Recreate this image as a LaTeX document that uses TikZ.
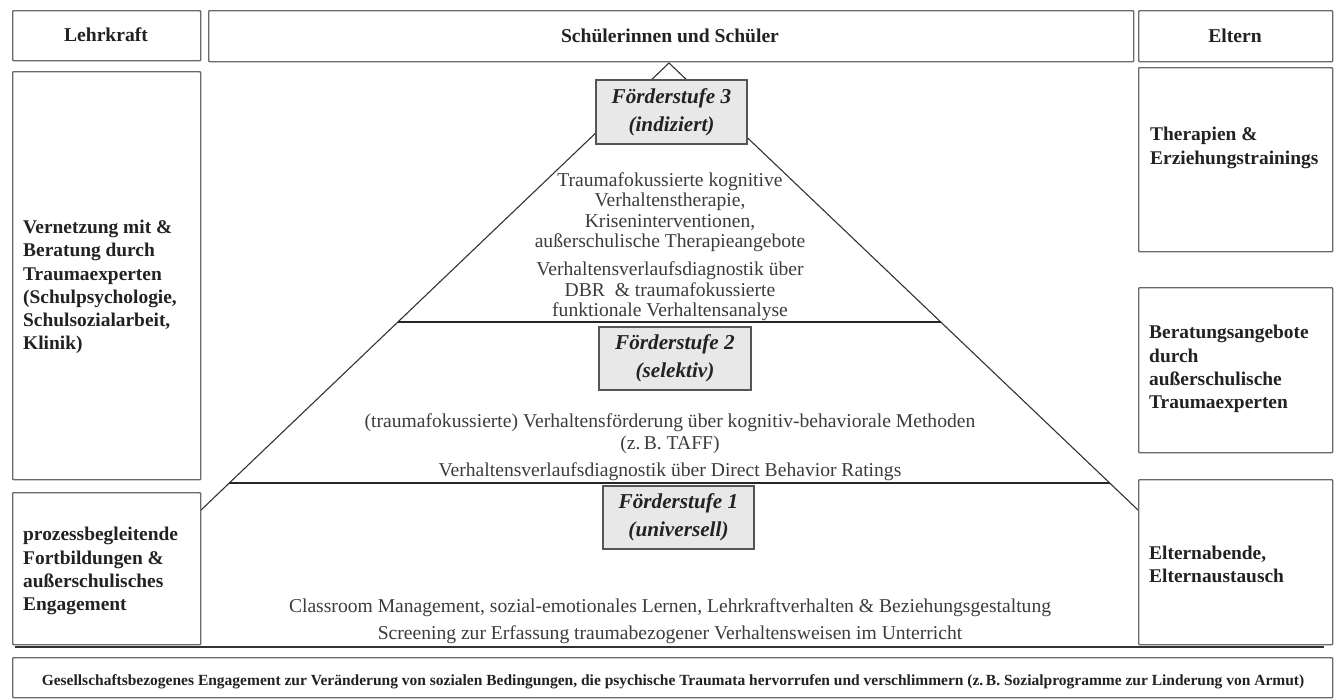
\documentclass[tikz,border=0pt]{standalone}
\usepackage{fontspec}
\setmainfont{Liberation Serif}
\definecolor{boxc}{HTML}{6A6A6A}
\definecolor{fsborder}{HTML}{555555}
\definecolor{fsfill}{HTML}{E8E8E8}
\definecolor{bodyc}{HTML}{3C3C3C}
\definecolor{headc}{HTML}{222222}
\begin{document}
\begin{tikzpicture}[x=1pt,y=-1pt,
  box/.style={draw=boxc, line width=1.4pt, fill=white, inner sep=0pt, rounded corners=0.8pt},
  fsbox/.style={draw=fsborder, line width=1.2pt, fill=fsfill, inner sep=0pt, align=center,
    font=\bfseries\itshape\fontsize{21.2}{28}\selectfont, text=headc},
  head/.style={font=\bfseries\fontsize{19.6}{23}\selectfont, text=headc},
  side/.style={font=\bfseries\fontsize{19.4}{23.2}\selectfont, align=left, anchor=west, text=headc, inner sep=0pt},
  body/.style={font=\fontsize{19.6}{20.5}\selectfont, align=center, text=bodyc, inner sep=0pt},
  pyr/.style={draw=black!80, line width=1.1pt},
  tier/.style={draw=black!85, line width=1.8pt}]
\useasboundingbox (0,0) rectangle (1337,699);
\fill[white] (0,0) rectangle (1337,699);
% pyramid
\coordinate (apex) at (669,63);
\coordinate (bl) at (200,511);
\coordinate (br) at (1138,510);
\coordinate (b0) at (15,647);
\coordinate (b1) at (1324,647);
\draw[pyr] (bl) -- (apex) -- (br);
\draw[pyr] (b0) -- (b1);
\draw[tier] (398,322) -- (941,322);
\draw[tier] (229,483) -- (1110,483);
% header boxes
\node[box, minimum width=188pt, minimum height=50pt, anchor=north west] (lk) at (12,10) {};
\node[head] (lkt) at (106,35) {Lehrkraft};
\node[box, minimum width=925pt, minimum height=51pt, anchor=north west] (sus) at (208,10) {};
\node[head] (sust) at (670,36) {Schülerinnen und Schüler};
\node[box, minimum width=194pt, minimum height=51pt, anchor=north west] (el) at (1138,10) {};
\node[head] (elt) at (1235,36) {Eltern};
% left boxes
\node[box, minimum width=188pt, minimum height=408pt, anchor=north west] (l2) at (12,71) {};
\node[side] (l2t) at (23,287) {Vernetzung mit \&\\Beratung durch\\Traumaexperten\\(Schulpsychologie,\\Schulsozialarbeit,\\Klinik)};
\node[box, minimum width=188pt, minimum height=152pt, anchor=north west] (l3) at (12,492) {};
\node[side] (l3t) at (23,571) {prozessbegleitende\\Fortbildungen \&\\außerschulisches\\Engagement};
% right boxes
\node[box, minimum width=194pt, minimum height=184pt, anchor=north west] (r1) at (1138,67) {};
\node[side] (r1t) at (1150,148) {Therapien \&\\Erziehungstrainings};
\node[box, minimum width=194pt, minimum height=165pt, anchor=north west] (r2) at (1138,287) {};
\node[side] (r2t) at (1149,369) {Beratungsangebote\\durch\\außerschulische\\Traumaexperten};
\node[box, minimum width=194pt, minimum height=165pt, anchor=north west] (r3) at (1138,479) {};
\node[side] (r3t) at (1149,564) {Elternabende,\\Elternaustausch};
% bottom box
\node[box, minimum width=1320pt, minimum height=40pt, anchor=north west] (bot) at (12,657) {};
\node[font=\bfseries\fontsize{15.5}{18}\selectfont, text=headc] (bott) at (673,682) {Gesellschaftsbezogenes Engagement zur Veränderung von sozialen Bedingungen, die psychische Traumata hervorrufen und verschlimmern (z.\,B. Sozialprogramme zur Linderung von Armut)};
% Förderstufen
\node[fsbox, minimum width=151pt, minimum height=64pt] (fs3) at (671.5,112) {Förderstufe 3\\(indiziert)};
\node[fsbox, minimum width=152pt, minimum height=63pt] (fs2) at (675,358.5) {Förderstufe 2\\(selektiv)};
\node[fsbox, minimum width=151pt, minimum height=63pt] (fs1) at (678.5,517.5) {Förderstufe 1\\(universell)};
% body texts
\node[body] (t3a) at (670,212) {Traumafokussierte kognitive\\Verhaltenstherapie,\\Kriseninterventionen,\\außerschulische Therapieangebote};
\node[body] (t3b) at (670,291.5) {Verhaltensverlaufsdiagnostik über\\DBR \ \& traumafokussierte\\funktionale Verhaltensanalyse};
\node[body, font=\fontsize{19.6}{22}\selectfont] (t2a) at (670,434) {(traumafokussierte) Verhaltensförderung über kognitiv-behaviorale Methoden\\(z.\,B. TAFF)};
\node[body] (t2b) at (670,472) {Verhaltensverlaufsdiagnostik über Direct Behavior Ratings};
\node[body] (t1a) at (670,608) {Classroom Management, sozial-emotionales Lernen, Lehrkraftverhalten \& Beziehungsgestaltung};
\node[body] (t1b) at (670,635) {Screening zur Erfassung traumabezogener Verhaltensweisen im Unterricht};
\end{tikzpicture}
\end{document}
